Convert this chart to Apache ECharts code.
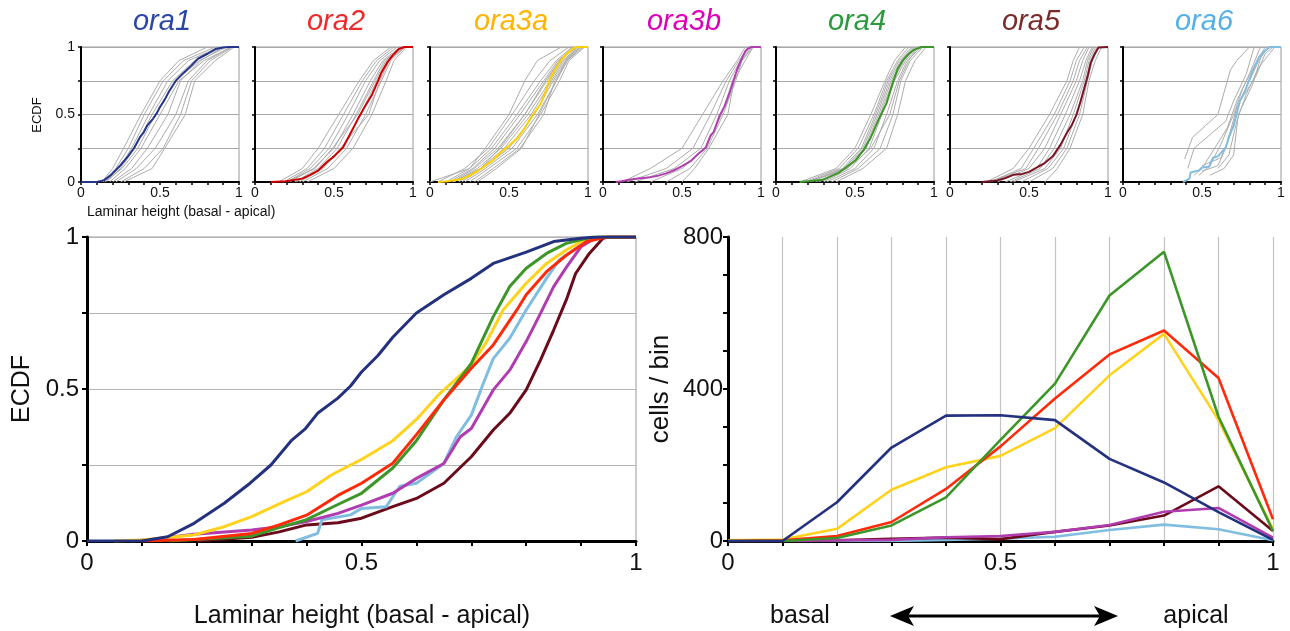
<!DOCTYPE html>
<html><head><meta charset="utf-8">
<script src="https://cdn.jsdelivr.net/npm/echarts@6/dist/echarts.min.js"></script>
<style>html,body{margin:0;padding:0;background:#fff}#c{width:1290px;height:631px}</style>
</head><body><div id="c"></div>
<script>
// ---------- DATA ----------
const groups = ['ora1','ora2','ora3a','ora3b','ora4','ora5','ora6'];

// pooled ECDF curves: [laminar height, ECDF]
const ecdf_ora1 = [[0,0],[0.1,0],[0.147,0.014],[0.195,0.058],[0.25,0.124],[0.297,0.19],[0.335,0.25],[0.372,0.33],[0.398,0.37],[0.42,0.42],[0.457,0.47],[0.48,0.51],[0.5,0.556],[0.53,0.61],[0.557,0.67],[0.6,0.75],[0.65,0.81],[0.7,0.864],[0.74,0.913],[0.8,0.95],[0.85,0.985],[0.9,0.996],[0.93,1],[1,1]];
const ecdf_ora2 = [[0.1,0],[0.195,0.005],[0.3,0.025],[0.35,0.053],[0.4,0.085],[0.457,0.15],[0.5,0.19],[0.557,0.256],[0.6,0.35],[0.65,0.464],[0.7,0.568],[0.74,0.645],[0.783,0.76],[0.8,0.81],[0.837,0.886],[0.873,0.94],[0.91,0.985],[0.946,1],[1,1]];
const ecdf_ora3a = [[0.05,0],[0.1,0.003],[0.195,0.02],[0.25,0.047],[0.3,0.08],[0.36,0.13],[0.4,0.162],[0.445,0.217],[0.48,0.25],[0.5,0.268],[0.557,0.33],[0.6,0.4],[0.643,0.486],[0.667,0.524],[0.7,0.579],[0.728,0.656],[0.758,0.76],[0.8,0.848],[0.837,0.913],[0.873,0.957],[0.9,0.985],[0.935,1],[1,1]];
const ecdf_ora3b = [[0.08,0],[0.116,0.005],[0.195,0.022],[0.3,0.036],[0.35,0.047],[0.4,0.064],[0.457,0.091],[0.5,0.118],[0.557,0.157],[0.6,0.206],[0.65,0.255],[0.68,0.343],[0.7,0.37],[0.74,0.497],[0.77,0.562],[0.8,0.656],[0.826,0.749],[0.85,0.837],[0.873,0.9],[0.9,0.968],[0.92,0.99],[0.94,1],[1,1]];
const ecdf_ora4 = [[0.15,0],[0.3,0.016],[0.35,0.044],[0.4,0.07],[0.457,0.12],[0.5,0.157],[0.557,0.24],[0.6,0.33],[0.65,0.464],[0.7,0.584],[0.74,0.738],[0.77,0.837],[0.8,0.897],[0.837,0.946],[0.873,0.979],[0.92,1],[1,1]];
const ecdf_ora5 = [[0.2,0],[0.3,0.012],[0.35,0.03],[0.4,0.053],[0.457,0.06],[0.5,0.075],[0.557,0.113],[0.6,0.14],[0.65,0.19],[0.7,0.277],[0.74,0.365],[0.77,0.42],[0.8,0.497],[0.826,0.595],[0.85,0.694],[0.873,0.793],[0.89,0.88],[0.915,0.946],[0.94,0.996],[0.95,1],[1,1]];
const ecdf_ora6 = [[0.38,0],[0.42,0.025],[0.428,0.07],[0.48,0.086],[0.5,0.107],[0.545,0.113],[0.57,0.18],[0.6,0.19],[0.65,0.255],[0.673,0.343],[0.7,0.414],[0.722,0.519],[0.74,0.6],[0.77,0.667],[0.8,0.76],[0.837,0.864],[0.86,0.924],[0.9,0.974],[0.93,1],[1,1]];

// individual-animal ECDFs (gray): laminar height at these ECDF levels
const grayLevels = [0,0.1,0.25,0.5,0.75,0.9,1];
const gray_ora1 = [
  [0.13,0.2,0.27,0.38,0.5,0.62,0.8],[0.14,0.22,0.3,0.4,0.52,0.65,0.85],[0.15,0.24,0.32,0.43,0.55,0.68,0.88],
  [0.16,0.25,0.34,0.45,0.58,0.72,0.9],[0.15,0.26,0.36,0.47,0.6,0.75,0.92],[0.18,0.28,0.38,0.5,0.62,0.78,0.95],
  [0.2,0.32,0.42,0.55,0.63,0.76,0.9],[0.22,0.35,0.47,0.6,0.68,0.8,0.95],[0.25,0.4,0.52,0.63,0.7,0.82,0.96],
  [0.27,0.45,0.53,0.66,0.72,0.85,0.97]];
const gray_ora2 = [
  [0.15,0.3,0.4,0.53,0.66,0.75,0.86],[0.18,0.33,0.44,0.56,0.68,0.77,0.88],[0.2,0.35,0.47,0.59,0.7,0.79,0.9],
  [0.22,0.37,0.5,0.62,0.73,0.81,0.92],[0.25,0.4,0.52,0.64,0.75,0.82,0.93],[0.28,0.43,0.55,0.67,0.77,0.84,0.95],
  [0.3,0.46,0.58,0.7,0.8,0.86,0.95],[0.33,0.5,0.62,0.74,0.83,0.88,0.96],[0.2,0.38,0.49,0.65,0.76,0.83,0.92],
  [0.26,0.42,0.54,0.72,0.79,0.85,0.94]];
const gray_ora3a = [
  [0.0,0.25,0.35,0.5,0.6,0.68,0.83],[0.05,0.22,0.37,0.52,0.66,0.76,0.88],[0.1,0.25,0.39,0.55,0.7,0.8,0.9],
  [0.12,0.27,0.41,0.57,0.72,0.81,0.92],[0.14,0.28,0.43,0.6,0.74,0.82,0.93],[0.15,0.3,0.45,0.62,0.76,0.84,0.94],
  [0.18,0.32,0.47,0.64,0.77,0.85,0.95],[0.2,0.33,0.5,0.66,0.78,0.86,0.96],[0.22,0.35,0.52,0.68,0.8,0.87,0.97],
  [0.25,0.37,0.55,0.7,0.82,0.88,0.98],[0.28,0.4,0.57,0.72,0.79,0.87,0.95],[0.3,0.42,0.58,0.69,0.8,0.86,0.93],
  [0.15,0.32,0.44,0.6,0.73,0.82,0.9]];
const gray_ora3b = [
  [0.12,0.3,0.5,0.63,0.76,0.85,0.9],[0.15,0.4,0.57,0.68,0.78,0.86,0.92],[0.2,0.45,0.62,0.72,0.8,0.87,0.93],
  [0.3,0.5,0.65,0.75,0.82,0.88,0.94],[0.4,0.55,0.66,0.76,0.84,0.88,0.95],[0.5,0.58,0.67,0.79,0.83,0.9,0.95]];
const gray_ora4 = [
  [0.15,0.38,0.5,0.6,0.69,0.75,0.82],[0.18,0.4,0.52,0.62,0.7,0.77,0.84],[0.2,0.42,0.54,0.63,0.71,0.78,0.86],
  [0.22,0.43,0.55,0.64,0.72,0.79,0.87],[0.25,0.44,0.56,0.65,0.73,0.8,0.88],[0.27,0.45,0.57,0.66,0.74,0.81,0.89],
  [0.3,0.47,0.59,0.67,0.75,0.82,0.9],[0.32,0.5,0.62,0.7,0.77,0.83,0.92],[0.35,0.52,0.66,0.74,0.79,0.85,0.93],
  [0.38,0.55,0.7,0.77,0.82,0.88,0.95],[0.2,0.45,0.6,0.72,0.78,0.84,0.9]];
const gray_ora5 = [
  [0.23,0.4,0.5,0.63,0.74,0.78,0.82],[0.25,0.45,0.53,0.66,0.76,0.8,0.85],[0.25,0.48,0.56,0.68,0.78,0.82,0.87],
  [0.3,0.5,0.6,0.7,0.8,0.84,0.88],[0.35,0.55,0.63,0.73,0.82,0.86,0.9],[0.38,0.57,0.66,0.76,0.84,0.87,0.91],
  [0.4,0.6,0.7,0.78,0.85,0.88,0.92],[0.45,0.62,0.72,0.8,0.86,0.89,0.93],[0.5,0.65,0.74,0.82,0.87,0.9,0.94],
  [0.6,0.68,0.76,0.84,0.88,0.92,0.96]];
// ora6 individual curves start above zero: [height, ECDF] pairs
const gray_ora6 = [
  [[0.39,0.17],[0.44,0.33],[0.6,0.5],[0.68,0.83],[0.72,0.9],[0.8,1]],
  [[0.41,0.1],[0.45,0.25],[0.55,0.35],[0.65,0.45],[0.7,0.6],[0.78,0.8],[0.83,1]],
  [[0.45,0.05],[0.5,0.1],[0.58,0.25],[0.66,0.4],[0.72,0.6],[0.8,0.8],[0.87,1]],
  [[0.48,0.05],[0.55,0.12],[0.62,0.28],[0.7,0.5],[0.76,0.7],[0.84,0.88],[0.9,1]],
  [[0.5,0.08],[0.6,0.12],[0.65,0.25],[0.72,0.55],[0.8,0.75],[0.86,0.9],[0.92,1]],
  [[0.55,0.05],[0.64,0.1],[0.7,0.2],[0.73,0.5],[0.82,0.72],[0.88,0.95],[0.93,1]],
  [[0.5,0.12],[0.62,0.18],[0.68,0.35],[0.74,0.6],[0.84,0.78],[0.9,0.95],[0.95,1]],
  [[0.6,0.1],[0.67,0.2],[0.72,0.45],[0.78,0.65],[0.86,0.85],[0.96,1]]];

// histogram (cells / bin)
const binX = [0,0.1,0.2,0.3,0.4,0.5,0.6,0.7,0.8,0.9,1];
const hist_ora1 = [0,0,102,246,330,331,318,216,154,76,3];
const hist_ora2 = [0,2,13,50,137,249,375,491,554,429,57];
const hist_ora3a = [2,4,32,135,194,224,297,436,545,318,31];
const hist_ora3b = [0,0,2,3,10,13,24,42,77,87,9];
const hist_ora4 = [0,0,8,41,115,266,414,646,761,327,26];
const hist_ora5 = [0,0,2,6,9,5,24,41,67,144,26];
const hist_ora6 = [0,0,0,0,3,6,11,29,43,31,2];

const heightTickLabels = [0,0.5,1];
const ecdfTickLabels = [0,0.5,1];
const countTickLabels = [0,400,800];

// ---------- STYLE ----------
const FONT = '"Liberation Sans", Arial, Helvetica, sans-serif';
const titleColors = ['#2b46a6','#ee2a2a','#ffb400','#dd00bb','#2a9a3c','#7b2a2a','#55b0e8'];
const smallColors = ['#25358c','#d00000','#ffd000','#b040b0','#3c9628','#7a1424','#80bde0'];
const bigColors   = ['#23317f','#ff2a0a','#ffd21c','#b03cb0','#3c9628','#6b0a1a','#80bde0'];
const ecdfCurves = [ecdf_ora1,ecdf_ora2,ecdf_ora3a,ecdf_ora3b,ecdf_ora4,ecdf_ora5,ecdf_ora6];
const grayCurves = [gray_ora1,gray_ora2,gray_ora3a,gray_ora3b,gray_ora4,gray_ora5];
const hists = [hist_ora1,hist_ora2,hist_ora3a,hist_ora3b,hist_ora4,hist_ora5,hist_ora6];

const near = (v, list) => list.find(t => Math.abs(v - t) < 1e-6);
const fmt = list => v => { const t = near(v, list); return t === undefined ? '' : String(t); };

const smallLeft = [81,255,430,603,776,950,1123];
const grids = [], xAxes = [], yAxes = [], series = [];
smallLeft.forEach((l,i) => {
  grids.push({left:l, top:47, width:158, height:135, show:true, borderColor:'#9a9a9a', borderWidth:1});
  xAxes.push({type:'value', gridIndex:i, min:0, max:1, interval:0.1,
    axisLine:{show:true, onZero:false, lineStyle:{color:'#000', width:2}},
    axisTick:{show:true, length:3, lineStyle:{color:'#000', width:1.5}},
    axisLabel:{formatter:fmt(heightTickLabels), fontSize:14, color:'#111', margin:4, fontFamily:FONT, showMinLabel:true, showMaxLabel:true},
    splitLine:{show:false}});
  yAxes.push({type:'value', gridIndex:i, min:0, max:1, interval:0.25,
    axisLine:{show:true, onZero:false, lineStyle:{color:'#000', width:2}},
    axisTick:{show:true, length:3, lineStyle:{color:'#000', width:1.5}},
    axisLabel:{show:i===0, formatter:fmt(ecdfTickLabels), fontSize:14, color:'#111', margin:6, fontFamily:FONT},
    splitLine:{show:true, lineStyle:{color:'#a8a8a8', width:1}}});
});
// big ECDF grid (7) and histogram grid (8)
grids.push({left:87, top:237, width:549, height:304, show:true, borderColor:'#9a9a9a', borderWidth:1});
grids.push({left:728, top:237, width:545, height:304});
[7,8].forEach(g => {
  xAxes.push({type:'value', gridIndex:g, min:0, max:1, interval:0.1,
    axisLine:{show:true, onZero:false, lineStyle:{color:'#000', width:3}},
    axisTick:{show:true, length:5, lineStyle:{color:'#000', width:2}},
    axisLabel:{formatter:fmt(heightTickLabels), fontSize:24, color:'#111', margin:10, fontFamily:FONT, showMinLabel:true, showMaxLabel:true},
    splitLine:{show:g===8, lineStyle:{color:'#c4c4c4', width:1.2}}});
});
yAxes.push({type:'value', gridIndex:7, min:0, max:1, interval:0.25,
  axisLine:{show:true, onZero:false, lineStyle:{color:'#000', width:3}},
  axisTick:{show:true, length:5, lineStyle:{color:'#000', width:2}},
  axisLabel:{formatter:fmt(ecdfTickLabels), fontSize:24, color:'#111', margin:8, fontFamily:FONT},
  splitLine:{show:true, lineStyle:{color:'#b4b4b4', width:1.2}}});
yAxes.push({type:'value', gridIndex:8, min:0, max:800, interval:100,
  axisLine:{show:true, onZero:false, lineStyle:{color:'#000', width:3}},
  axisTick:{show:true, length:5, lineStyle:{color:'#000', width:2}},
  axisLabel:{formatter:fmt(countTickLabels), fontSize:24, color:'#111', margin:5, fontFamily:FONT},
  splitLine:{show:false}});

// small panels
for (let i = 0; i < 7; i++) {
  const lines = i < 6 ? grayCurves[i].map(xs => xs.map((x,k) => [x, grayLevels[k]])) : gray_ora6;
  lines.forEach(d => series.push({type:'line', xAxisIndex:i, yAxisIndex:i, data:d, showSymbol:false, silent:true,
    lineStyle:{color:'#acacac', width:1}, z:2}));
  series.push({type:'line', xAxisIndex:i, yAxisIndex:i, data:ecdfCurves[i], showSymbol:false, silent:true,
    lineStyle:{color:smallColors[i], width:2}, z:4});
}
// big ECDF (draw order)
[5,6,3,2,4,1,0].forEach(i => series.push({type:'line', xAxisIndex:7, yAxisIndex:7, data:ecdfCurves[i],
  showSymbol:false, silent:true, lineStyle:{color:bigColors[i], width:3}, z:3}));
// histogram
[6,5,3,2,1,4,0].forEach(i => series.push({type:'line', xAxisIndex:8, yAxisIndex:8,
  data:binX.map((x,k) => [x, hists[i][k]]), showSymbol:false, silent:true,
  lineStyle:{color:bigColors[i], width:2.6}, z:3}));

// texts
const graphic = [];
smallLeft.forEach((l,i) => graphic.push({type:'text', x:l+81, y:22, style:{text:groups[i], fill:titleColors[i],
  font:'italic 29px ' + FONT, textAlign:'center', textVerticalAlign:'middle'}}));
const txt = (x,y,text,size,rot,align) => ({type:'text', x, y, rotation:rot||0,
  style:{text, fill:'#111', font:size+'px '+FONT, textAlign:align||'center', textVerticalAlign:'middle'}});
graphic.push(txt(37,115,'ECDF',13,Math.PI/2));
graphic.push(txt(87,212,'Laminar height (basal - apical)',14,0,'left'));
graphic.push(txt(22,389,'ECDF',25,Math.PI/2));
graphic.push(txt(362,616,'Laminar height (basal - apical)',25));
graphic.push(txt(661,389,'cells / bin',26,Math.PI/2));
graphic.push(txt(800,616,'basal',25));
graphic.push(txt(1196,616,'apical',25));
graphic.push({type:'line', shape:{x1:900, y1:616, x2:1108, y2:616}, style:{stroke:'#000', lineWidth:3}});
graphic.push({type:'polygon', shape:{points:[[890,616],[914,606],[908,616],[914,626]]}, style:{fill:'#000'}});
graphic.push({type:'polygon', shape:{points:[[1118,616],[1094,606],[1100,616],[1094,626]]}, style:{fill:'#000'}});

const chart = echarts.init(document.getElementById('c'), null, {renderer:'canvas'});
chart.setOption({animation:false, backgroundColor:'#fff', textStyle:{fontFamily:FONT},
  grid:grids, xAxis:xAxes, yAxis:yAxes, series, graphic});
</script></body></html>
